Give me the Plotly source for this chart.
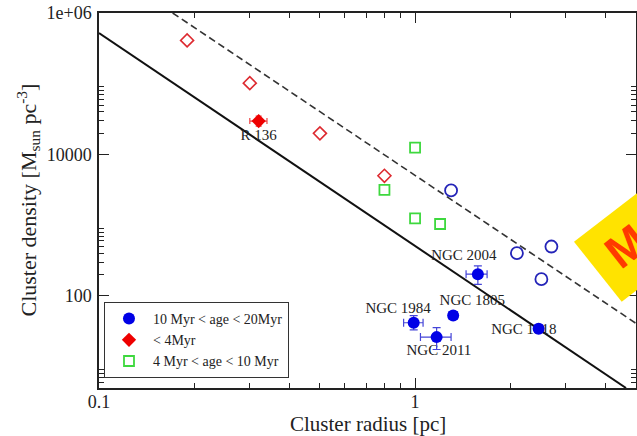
import plotly.graph_objects as go

# ---------------- data ----------------
young_open_r = [0.19, 0.30, 0.50, 0.80]
young_open_rho = [4.1e5, 1.02e5, 1.99e4, 5.0e3]

r136_r = [0.32]
r136_rho = [2.97e4]
r136_r_plus = [0.02]
r136_r_minus = [0.02]
r136_rho_plus = [5.2e3]
r136_rho_minus = [4.5e3]

mid_r = [1.0, 0.80, 1.0, 1.2]
mid_rho = [1.25e4, 3.16e3, 1.25e3, 1.04e3]

old_open_r = [1.30, 2.10, 2.70, 2.51]
old_open_rho = [3.1e3, 404, 500, 173]

old_names = ["NGC 2004", "NGC 1805", "NGC 1984", "NGC 2011", "NGC 1818"]
old_r = [1.58, 1.32, 0.99, 1.17, 2.46]
old_rho = [203, 53, 41.8, 26.2, 34.4]
old_r_plus = [0.11, 0.04, 0.07, 0.13, 0.06]
old_r_minus = [0.13, 0.04, 0.07, 0.13, 0.06]
old_rho_plus = [63, 7, 11, 9.4, 4.5]
old_rho_minus = [57, 6, 8.6, 8.7, 4]

label_text = ["NGC 2004", "NGC 1805", "NGC 1984", "NGC 2011", "NGC 1818", "R 136"]
label_r = [1.427, 1.517, 0.884, 1.19, 2.21, 0.32]
label_rho = [369, 84.9, 64.7, 16.6, 32.6, 1.8e4]

solid_r = [0.1, 4.65]
solid_rho = [5.2e5, 5.0]
dash_r = [0.171, 5.0]
dash_rho = [1.0e6, 41]

x_major = [0.1, 1]
x_major_text = ["0.1", "1"]
x_minor = [0.2, 0.3, 0.4, 0.5, 0.6, 0.7, 0.8, 0.9, 2, 3, 4]
y_major = [100, 1e4, 1e6]
y_major_text = ["100", "10000", "1e+06"]
y_minor = [6, 7, 8, 9,
           200, 300, 400, 500, 600, 700, 800, 900,
           2e4, 3e4, 4e4, 5e4, 6e4, 7e4, 8e4, 9e4]

x_title = "Cluster radius [pc]"
y_title = "Cluster density [M<sub>sun</sub> pc<sup>-3</sup>]"

# ---------------- figure ----------------
SERIF = "Liberation Serif, Times New Roman, serif"
fig = go.Figure()

fig.add_trace(go.Scatter(x=solid_r, y=solid_rho, mode="lines",
                         line=dict(color="#111", width=2), showlegend=False, hoverinfo="skip"))
fig.add_trace(go.Scatter(x=dash_r, y=dash_rho, mode="lines",
                         line=dict(color="#333", width=1.6, dash="7px,4px"), showlegend=False, hoverinfo="skip"))

# labels drawn below markers
fig.add_trace(go.Scatter(x=label_r, y=label_rho, mode="text", text=label_text,
                         textfont=dict(family=SERIF, size=15, color="#222"),
                         textposition="middle center", showlegend=False, hoverinfo="skip"))

fig.add_trace(go.Scatter(x=young_open_r, y=young_open_rho, mode="markers",
                         marker=dict(symbol="diamond-open", size=10, color="#dd2a30",
                                     line=dict(width=1.6, color="#dd2a30")),
                         showlegend=False))
fig.add_trace(go.Scatter(x=mid_r, y=mid_rho, mode="markers",
                         name="4 Myr &lt; age &lt; 10 Myr",
                         marker=dict(symbol="square-open", size=10, color="#3ed83e",
                                     line=dict(width=1.8, color="#3ed83e")),
                         legendrank=3))
fig.add_trace(go.Scatter(x=old_open_r, y=old_open_rho, mode="markers",
                         marker=dict(symbol="circle-open", size=12, color="#2424b8",
                                     line=dict(width=1.8, color="#2424b8")),
                         showlegend=False))
fig.add_trace(go.Scatter(x=r136_r, y=r136_rho, mode="markers",
                         name="&lt; 4Myr",
                         marker=dict(symbol="diamond", size=11, color="#ee0000"),
                         error_x=dict(type="data", symmetric=False, array=r136_r_plus,
                                      arrayminus=r136_r_minus, color="#e44", thickness=1.2, width=3),
                         error_y=dict(type="data", symmetric=False, array=r136_rho_plus,
                                      arrayminus=r136_rho_minus, color="#e44", thickness=1.2, width=3),
                         legendrank=2))
fig.add_trace(go.Scatter(x=old_r, y=old_rho, mode="markers", text=old_names,
                         name="10 Myr &lt; age &lt; 20Myr",
                         marker=dict(symbol="circle", size=12, color="#0000e6"),
                         error_x=dict(type="data", symmetric=False, array=old_r_plus,
                                      arrayminus=old_r_minus, color="#4545d8", thickness=1.2, width=4),
                         error_y=dict(type="data", symmetric=False, array=old_rho_plus,
                                      arrayminus=old_rho_minus, color="#4545d8", thickness=1.2, width=4),
                         legendrank=1))

axis_common = dict(
    type="log", showgrid=False, zeroline=False, automargin=False,
    showline=True, linecolor="#222", linewidth=1.5, mirror="allticks",
    ticks="inside", ticklen=10, tickwidth=1.2, tickcolor="#222",
    tickfont=dict(family=SERIF, size=18, color="#222"),
    tickmode="array",
)

fig.update_xaxes(**axis_common, range=[-1, 0.699],
                 tickvals=x_major, ticktext=x_major_text, ticklabelstandoff=-3,
                 minor=dict(tickmode="array", tickvals=x_minor, ticks="inside",
                            ticklen=5, tickwidth=1, tickcolor="#222"))
fig.update_yaxes(**axis_common, range=[0.699, 6],
                 tickvals=y_major, ticktext=y_major_text, ticklabelstandoff=2,
                 minor=dict(tickmode="array", tickvals=y_minor, ticks="inside",
                            ticklen=5, tickwidth=1, tickcolor="#222"))

# axis titles
fig.add_annotation(xref="paper", yref="paper", x=0.5, y=-0.0965, text=x_title,
                   showarrow=False, xanchor="center", yanchor="middle",
                   font=dict(family=SERIF, size=21, color="#222"))
fig.add_annotation(xref="paper", yref="paper", x=-0.1322, y=0.5, text=y_title,
                   showarrow=False, xanchor="center", yanchor="middle", textangle=-90,
                   font=dict(family=SERIF, size=22, color="#222"))

# yellow badge at right edge
fig.add_shape(type="path", xref="paper", yref="paper", layer="above",
              path="M 0.8845,0.3901 L 1.0819,0.6072 L 1.0819,0.349 L 0.9734,0.2301 Z",
              fillcolor="#ffe300", line=dict(width=0))
fig.add_annotation(xref="paper", yref="paper", x=0.982, y=0.378, text="<b>M</b>",
                   showarrow=False, textangle=-38, xanchor="center", yanchor="middle",
                   font=dict(family="Liberation Sans, Arial, sans-serif", size=46, color="#ff3a00"))

fig.update_layout(
    width=637, height=436,
    margin=dict(l=99, r=1, t=13, b=48),
    paper_bgcolor="white", plot_bgcolor="white",
    showlegend=True,
    legend=dict(x=0.0093, y=0.2293, xanchor="left", yanchor="top",
                bgcolor="white", bordercolor="#333", borderwidth=1,
                font=dict(family=SERIF, size=14, color="#222"),
                itemwidth=38, tracegroupgap=0),
)

fig.write_html("out.html", config={"displayModeBar": False},
               post_script="document.body.style.margin='0';document.body.style.overflow='hidden';")
